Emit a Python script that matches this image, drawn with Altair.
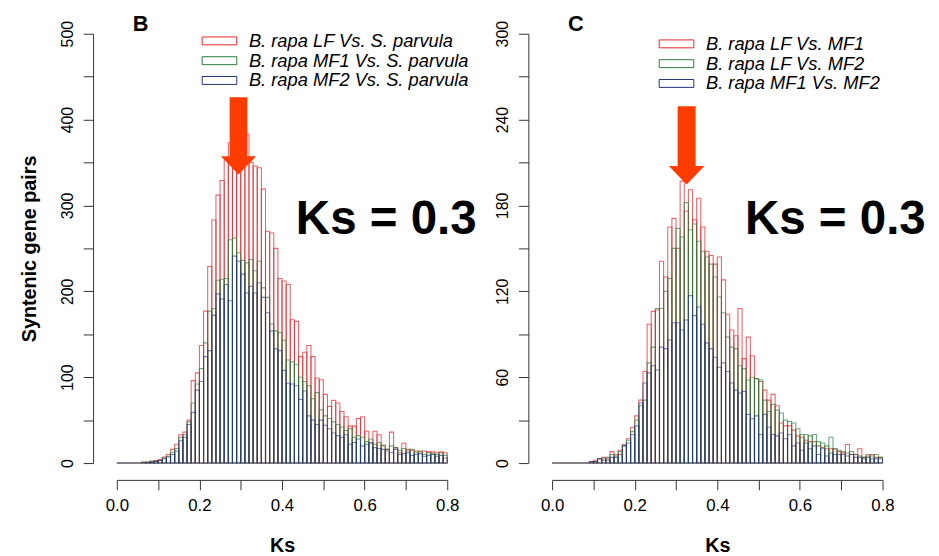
import altair as alt
import pandas as pd

# ---------------- data ----------------
bin_width = 0.01
ks_start = [round(i * bin_width, 2) for i in range(80)]

b_names = ["B. rapa LF Vs. S. parvula", "B. rapa MF1 Vs. S. parvula", "B. rapa MF2 Vs. S. parvula"]
c_names = ["B. rapa LF Vs. MF1", "B. rapa LF Vs. MF2", "B. rapa MF1 Vs. MF2"]

b_lf = [0, 0, 0, 0, 0, 0, 1, 1, 2, 3,
        4, 7, 10, 16, 22, 33, 36, 50, 96, 105,
        137, 177, 229, 283, 312, 329, 355, 373, 362, 370,
        365, 383, 350, 346, 344, 319, 270, 268, 250, 215,
        212, 208, 167, 165, 124, 129, 137, 124, 99, 97,
        80, 66, 73, 70, 60, 54, 43, 43, 52, 54,
        37, 23, 37, 33, 21, 16, 36, 18, 12, 23,
        16, 15, 14, 13, 14, 13, 13, 12, 13, 12]
b_mf1 = [0, 0, 0, 0, 0, 0, 1, 1, 2, 2,
         3, 6, 8, 12, 17, 30, 33, 48, 70, 92,
         110, 140, 177, 180, 213, 214, 215, 260, 262, 245,
         236, 233, 237, 224, 235, 204, 193, 162, 154, 152,
         143, 120, 118, 115, 100, 95, 90, 75, 82, 62,
         55, 52, 48, 45, 42, 38, 40, 30, 32, 30,
         25, 28, 22, 24, 20, 16, 20, 18, 15, 17,
         14, 16, 12, 14, 10, 12, 11, 10, 12, 9]
b_mf2 = [0, 0, 0, 0, 0, 0, 0, 1, 1, 2,
         3, 5, 7, 10, 14, 26, 30, 45, 59, 85,
         95, 124, 131, 172, 197, 191, 208, 189, 241, 235,
         220, 198, 206, 198, 210, 193, 175, 154, 133, 131,
         108, 93, 92, 90, 74, 84, 55, 50, 45, 50,
         44, 40, 35, 32, 30, 33, 22, 24, 28, 20,
         22, 24, 18, 17, 16, 14, 12, 16, 10, 11,
         12, 9, 10, 11, 8, 9, 10, 8, 9, 6]

c_lf_mf1 = [0, 0, 0, 0, 0, 0, 0, 0, 0, 1,
            2, 3, 4, 3, 8, 6, 9, 13, 17, 25,
            33, 44, 64, 97, 106, 107, 141, 130, 165, 171,
            150, 197, 176, 191, 170, 185, 165, 148, 145, 139,
            144, 128, 104, 93, 89, 108, 73, 88, 75, 59,
            57, 51, 44, 48, 40, 28, 26, 26, 23, 19,
            18, 16, 15, 15, 12, 11, 10, 10, 10, 8,
            7, 13, 6, 6, 10, 4, 5, 6, 4, 4]
c_lf_mf2 = [0, 0, 0, 0, 0, 0, 0, 0, 0, 0,
            1, 3, 3, 4, 6, 5, 8, 12, 16, 22,
            30, 40, 44, 70, 81, 108, 108, 120, 129, 150,
            164, 158, 182, 163, 167, 155, 148, 144, 139, 130,
            116, 105, 88, 81, 80, 68, 66, 58, 60, 59,
            58, 44, 36, 41, 37, 35, 30, 29, 28, 24,
            20, 20, 19, 20, 15, 14, 12, 18, 10, 9,
            8, 7, 8, 6, 5, 4, 6, 5, 6, 4]
c_mf1_mf2 = [0, 0, 0, 0, 0, 0, 0, 0, 0, 1,
             1, 3, 2, 2, 4, 4, 6, 12, 14, 20,
             26, 42, 56, 63, 68, 65, 81, 80, 86, 98,
             98, 93, 100, 117, 103, 109, 97, 84, 80, 74,
             67, 70, 64, 56, 51, 49, 50, 34, 31, 33,
             20, 34, 25, 20, 19, 21, 17, 20, 12, 14,
             9, 14, 10, 12, 6, 10, 5, 7, 6, 6,
             6, 5, 6, 4, 4, 3, 4, 3, 3, 3]

x_ticks = [0.0, 0.1, 0.2, 0.3, 0.4, 0.5, 0.6, 0.7, 0.8]
b_y_ticks = [0, 50, 100, 150, 200, 250, 300, 350, 400, 450, 500]
c_y_ticks = [0, 30, 60, 90, 120, 150, 180, 210, 240, 270, 300]

annot_text = "Ks = 0.3"
b_annot = {"x0": 0.4335, "count": 267}
c_annot = {"x0": 0.467, "count": 160}
b_arrow = {"x0": 0.2946, "count": 381}
c_arrow = {"x0": 0.3257, "count": 222}

# ---------------- style ----------------
FONT = "Liberation Sans"
stroke_colors = ["#e3262d", "#2a7a3a", "#1f3478"]
stroke_opac = [0.7, 0.6, 0.85]
arrow_color = "#ff3c00"
arrow_path = "M-0.23,-1L0.23,-1L0.23,0.53L0.455,0.53L0,1L-0.455,0.53L-0.23,0.53Z"
legend_symbol = "M-1,-0.8L6,-0.8L6,0.8L-1,0.8Z"
W, H = 334, 434


def make_panel(names, series, ymax, yticks, label_step, ytitle, letter,
               annot, arrow, arrow_size, leg_x, leg_y):
    rows = []
    for k, (name, vals) in enumerate(zip(names, series)):
        for i, v in enumerate(vals):
            rows.append({"series": name, "order_idx": k, "x0": ks_start[i],
                         "x1": round(ks_start[i] + bin_width, 2), "count": v})
    df = pd.DataFrame(rows)

    y_axis = alt.Axis(values=yticks,
                      labelExpr=f"datum.value % {label_step} == 0 ? datum.label : ''",
                      offset=24, tickSize=10, labelAngle=-90, labelAlign="center",
                      labelBaseline="bottom", labelPadding=8, labelFontSize=16,
                      grid=False, domainColor="#333", tickColor="#333",
                      labelColor="black", title=ytitle, titleFontSize=20,
                      titleFontWeight="bold", titlePadding=20, titleColor="black")
    x_axis = alt.Axis(values=x_ticks,
                      labelExpr="(round(datum.value * 10) % 2 == 0) ? format(datum.value, '.1f') : ''",
                      offset=17, tickSize=10, labelPadding=8, labelFontSize=17,
                      labelFlush=False, grid=False, domainColor="#333",
                      tickColor="#333", labelColor="black", title="Ks",
                      titleFontSize=20, titleFontWeight="bold", titlePadding=22,
                      titleColor="black")

    xs = alt.Scale(domain=[0, 0.8], nice=False, zero=False)
    ys = alt.Scale(domain=[0, ymax], nice=False)

    bars = alt.Chart(df).mark_rect(filled=False, strokeWidth=1.1).encode(
        x=alt.X("x0:Q", scale=xs, axis=x_axis),
        x2="x1:Q",
        y=alt.Y("count:Q", scale=ys, axis=y_axis),
        y2=alt.datum(0),
        stroke=alt.Stroke("series:N", scale=alt.Scale(domain=names, range=stroke_colors),
                          legend=alt.Legend(orient="none", legendX=leg_x, legendY=leg_y,
                                            title=None, symbolType=legend_symbol,
                                            symbolSize=100, symbolStrokeWidth=1,
                                            symbolFillColor="white",
                                            labelFont=FONT, labelFontStyle="italic",
                                            labelFontSize=18.5, labelColor="black",
                                            labelOffset=33, rowPadding=1,
                                            labelLimit=400)),
        strokeOpacity=alt.StrokeOpacity("series:N",
                                        scale=alt.Scale(domain=names, range=stroke_opac),
                                        legend=None),
        order=alt.Order("order_idx:Q"),
    )

    arr = alt.Chart(pd.DataFrame([arrow])).mark_point(
        shape=arrow_path, size=arrow_size, filled=True, fill=arrow_color,
        opacity=1, strokeWidth=0
    ).encode(x=alt.X("x0:Q", scale=xs), y=alt.Y("count:Q", scale=ys))

    txt = alt.Chart(pd.DataFrame([dict(annot, label=annot_text)])).mark_text(
        font=FONT, fontSize=48, fontWeight="bold", align="left",
        baseline="alphabetic", color="black"
    ).encode(x=alt.X("x0:Q", scale=xs), y=alt.Y("count:Q", scale=ys),
             text="label:N")

    let = alt.Chart(pd.DataFrame({"t": [letter]})).mark_text(
        font=FONT, fontSize=22, fontWeight="bold", align="left",
        baseline="alphabetic", color="black"
    ).encode(x=alt.value(16), y=alt.value(-3), text="t:N")

    return alt.layer(bars, arr, txt, let).properties(width=W, height=H)


panel_b = make_panel(b_names, [b_lf, b_mf1, b_mf2], 500, b_y_ticks, 100,
                     "Syntenic gene pairs", "B", b_annot, b_arrow, 6084, 82, -2)
panel_c = make_panel(c_names, [c_lf_mf1, c_lf_mf2, c_mf1_mf2], 300, c_y_ticks, 60,
                     None, "C", c_annot, c_arrow, 6241, 104, 1)

chart = alt.hconcat(panel_b, panel_c, spacing=106, bounds="flush").resolve_scale(
    stroke="independent", strokeOpacity="independent", x="independent", y="independent"
).resolve_legend(stroke="independent").properties(
    padding={"left": 12, "top": 2, "right": 5, "bottom": 5}
).configure(
    font=FONT, background="white"
).configure_view(stroke=None)

chart.save("out.html", embed_options={"renderer": "svg", "actions": False})
